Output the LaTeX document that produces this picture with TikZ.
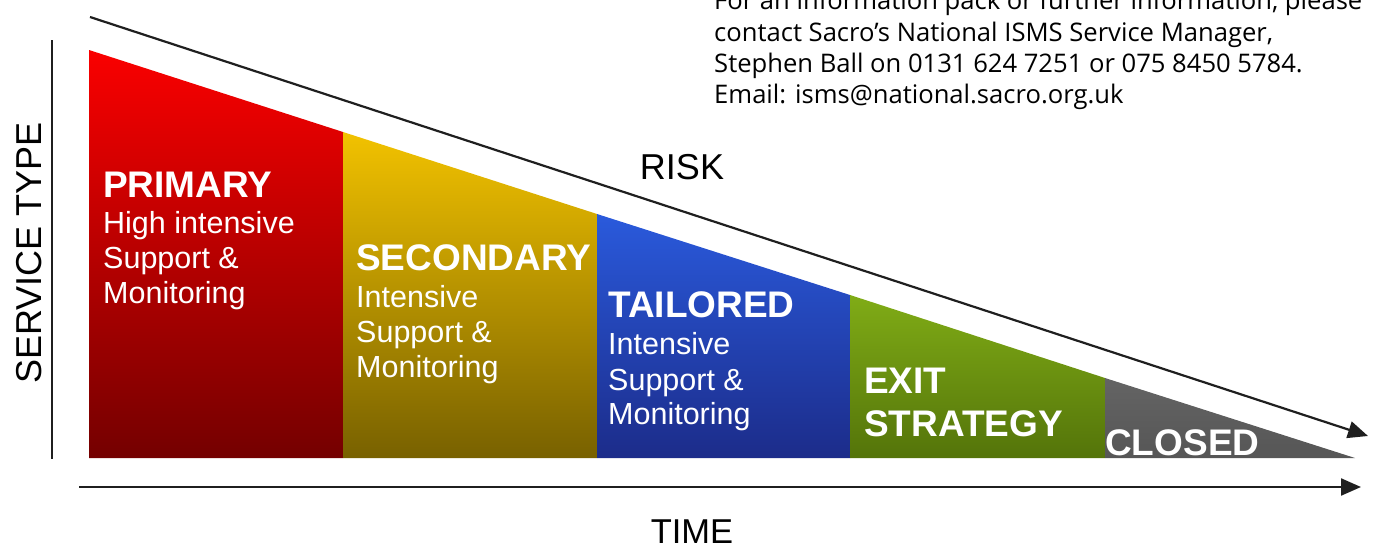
\documentclass[tikz,border=0pt]{standalone}
\usepackage{fontspec}
\setmainfont{Liberation Sans}
\newfontfamily\infofont{Open Sans}
\usetikzlibrary{arrows.meta}
\definecolor{redtop}{RGB}{250,0,0}
\definecolor{redbot}{RGB}{116,0,0}
\definecolor{yeltop}{RGB}{242,194,0}
\definecolor{yelbot}{RGB}{120,97,0}
\definecolor{blutop}{RGB}{42,90,220}
\definecolor{blubot}{RGB}{28,44,138}
\definecolor{grntop}{RGB}{128,172,22}
\definecolor{grnbot}{RGB}{84,116,10}
\definecolor{graytop}{RGB}{100,100,100}
\definecolor{graybot}{RGB}{86,86,86}
\begin{document}
\begin{tikzpicture}[x=1pt,y=-1pt,
  lbl/.style={anchor=base west, inner sep=0pt, text=white},
  head/.style={lbl, font=\fontsize{37}{37}\selectfont\bfseries},
  sub/.style={lbl, font=\fontsize{30.5}{30.5}\selectfont},
  axisline/.style={line width=2.2pt, black!88},
  arr/.style={axisline, -{Triangle[length=20pt,width=17pt]}},
  axlabel/.style={inner sep=0pt, font=\fontsize{36}{36}\selectfont, text=black},
  info/.style={anchor=base west, inner sep=0pt, font=\infofont\fontsize{25.6}{25.6}\selectfont, text=black}
]
\useasboundingbox (0,0) rectangle (1373,549);
\clip (0,0) rectangle (1373,549);

% segments
\shade[top color=redtop, bottom color=redbot] (89,50) -- (343,132) -- (343,458) -- (89,458) -- cycle;
\shade[top color=yeltop, bottom color=yelbot] (343,132) -- (597,214) -- (597,458) -- (343,458) -- cycle;
\shade[top color=blutop, bottom color=blubot] (597,214) -- (850,295) -- (850,458) -- (597,458) -- cycle;
\shade[top color=grntop, bottom color=grnbot] (850,295) -- (1105,378) -- (1105,458) -- (850,458) -- cycle;
\shade[top color=graytop, bottom color=graybot] (1105,378) -- (1355,458) -- (1105,458) -- cycle;

% axes
\coordinate (riskS) at (90,17);
\coordinate (riskE) at (1368,436);
\coordinate (timeS) at (79,487);
\coordinate (timeE) at (1361,487);
\coordinate (typeT) at (52,40);
\coordinate (typeB) at (52,459);
\draw[arr] (riskS) -- (riskE);
\draw[arr] (timeS) -- (timeE);
\draw[axisline] (typeT) -- (typeB);

\node[axlabel, anchor=base] (risk) at (682,179) {RISK};
\node[axlabel, anchor=base, font=\fontsize{34.5}{34.5}\selectfont] (time) at (692,543) {TIME};
\node[axlabel, anchor=base, rotate=90] (stype) at (41,253) {SERVICE TYPE};

% labels
\node[head] (p1) at (103,197) {PRIMARY};
\node[sub] (p2) at (103,233) {High intensive};
\node[sub] (p3) at (103,268) {Support \&};
\node[sub] (p4) at (103,303) {Monitoring};

\node[head] (s1) at (356,270) {SECONDARY};
\node[sub] (s2) at (356,307) {Intensive};
\node[sub] (s3) at (356,342) {Support \&};
\node[sub] (s4) at (356,377) {Monitoring};

\node[head] (t1) at (608,317) {TAILORED};
\node[sub] (t2) at (608,354) {Intensive};
\node[sub] (t3) at (608,390) {Support \&};
\node[sub] (t4) at (608,424) {Monitoring};

\node[head] (e1) at (864,393) {EXIT};
\node[head] (e2) at (864,436) {STRATEGY};

\node[head] (c1) at (1105,455) {CLOSED};

% info text
\node[info] (i1) at (714,9) {For an information pack or further information, please};
\node[info] (i2) at (714,41) {contact Sacro’s National ISMS Service Manager,};
\node[info] (i3) at (714,72) {Stephen Ball on 0131 624 7251 or 075 8450 5784.};
\node[info] (i4) at (714,103) {Email: isms@national.sacro.org.uk};
\end{tikzpicture}
\end{document}
